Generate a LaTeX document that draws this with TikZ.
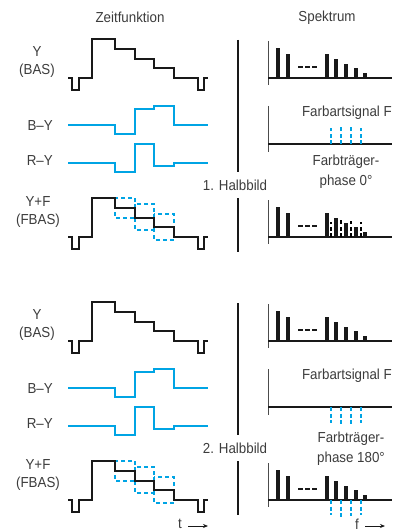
\documentclass[tikz,border=0pt]{standalone}
\usepackage{fontspec}
\setmainfont{Liberation Sans}[FakeStretch=0.92]
\usepackage{tikz}
\usetikzlibrary{positioning,arrows.meta}
\definecolor{fcblue}{RGB}{0,164,228}
\definecolor{txtgray}{RGB}{60,60,60}

\begin{document}
\begin{tikzpicture}[x=1pt,y=-1pt,
  every node/.style={font=\fontsize{14.5}{18}\selectfont,text=txtgray,inner sep=0pt},
  wave/.style={line width=2pt,black!90},
  chroma/.style={line width=2pt,fcblue},
  chromabox/.style={line width=1.8pt,fcblue,dash pattern=on 4pt off 3pt},
  axis/.style={line width=1.2pt,black!90},
  bar/.style={line width=3.2pt,black!90},
  cbar/.style={line width=2.6pt,dash pattern=on 4pt off 2.5pt}]
  \useasboundingbox (0,0) rectangle (392,532);

  \node (zeit) at (130,17) {Zeitfunktion};
  \node (spek) at (327,18) {Spektrum};

  % both fields, the second one 263 lower
  \foreach \h/\n/\s/\cc/\fx/\fy/\ph in {0/1/-1/black/346/172/0, 263/2/1/fcblue/351/186/180}{
  \begin{scope}[shift={(0,\h)}]
    \node[align=center] (ylab\n) at (37,62) {Y\\(BAS)};
    \node[anchor=east] (bylab\n) at (53,125.5) {B–Y};
    \node[anchor=east] (rylab\n) at (53,161) {R–Y};
    \node[align=center] (fblab\n) at (38,212) {Y+F\\(FBAS)};

    \draw[chroma] (68,125) -- (115,125) -- (115,134) -- (135,134) -- (135,109)
      -- (154,109) -- (154,106) -- (174,106) -- (174,125) -- (208,125);
    \draw[chroma] (68,163) -- (115,163) -- (115,172) -- (135,172) -- (135,144)
      -- (154,144) -- (154,166) -- (174,166) -- (174,163) -- (208,163);

    \draw[chromabox] (115,198) rectangle (135,218);
    \draw[chromabox] (135,204) rectangle (154,230);
    \draw[chromabox] (154,214) rectangle (174,240);

    \foreach \dy in {0,159}
      \draw[wave,shift={(0,\dy)}] (68,78) -- (72,78) -- (72,90) -- (79,90) -- (79,78)
        -- (92,78) -- (92,39) -- (115,39) -- (115,49) -- (135,49) -- (135,59)
        -- (154,59) -- (154,68) -- (174,68) -- (174,78) -- (198,78) -- (198,90)
        -- (204,90) -- (204,78) -- (208,78);

    \node (halb\n) at (235,185) {\n. Halbbild};
    \draw[axis] (238,40) -- (238,172);
    \draw[axis] (238,198) -- (238,252);

    % spectra of Y and Y+F
    \foreach \ay in {78,237}{
      \draw[axis,black!70,line width=1pt] (268,\ay-37) -- (268,\ay+7);
      \draw[axis] (268,\ay) -- (392,\ay);
      \foreach \x/\l in {278/30,288/24,327/24,336/19,346/14,356/10,365/5}
        \draw[bar] (\x,\ay) -- (\x,\ay-\l);
      \draw[line width=2pt,black!90,dash pattern=on 4.5pt off 2.5pt] (298,\ay-11) -- (317,\ay-11);
    }
    \foreach \x/\l in {331/15,341/19,351/16,361/15}
      \draw[cbar,\cc] (\x,237) -- ++(0,\s*\l);

    % chrominance alone
    \draw[axis,black!70,line width=1pt] (268,106) -- (268,152);
    \draw[axis] (268,144) -- (392,144);
    \node[anchor=east] (farb\n) at (392,113) {Farbartsignal F};
    \foreach \x/\l in {331/16,341/18,351/18,361/16}
      \draw[cbar,fcblue] (\x,144) -- ++(0,\s*\l);
    \node[align=center,font=\fontsize{14.5}{20}\selectfont] (phase\n) at (\fx,\fy) {Farbträger-\\phase \ph°};
  \end{scope}
  }

  \node (tlab) at (180,524) {t};
  \coordinate (tend) at (208,526);
  \draw[-{Stealth[length=5pt,width=4pt]},line width=0.8pt,black!90] ([xshift=6pt]tlab.east|-tend) -- (tend);
  \node (flab) at (357,524) {f};
  \coordinate (fend) at (385,526);
  \draw[-{Stealth[length=5pt,width=4pt]},line width=0.8pt,black!90] ([xshift=6pt]flab.east|-fend) -- (fend);
\end{tikzpicture}
\end{document}
